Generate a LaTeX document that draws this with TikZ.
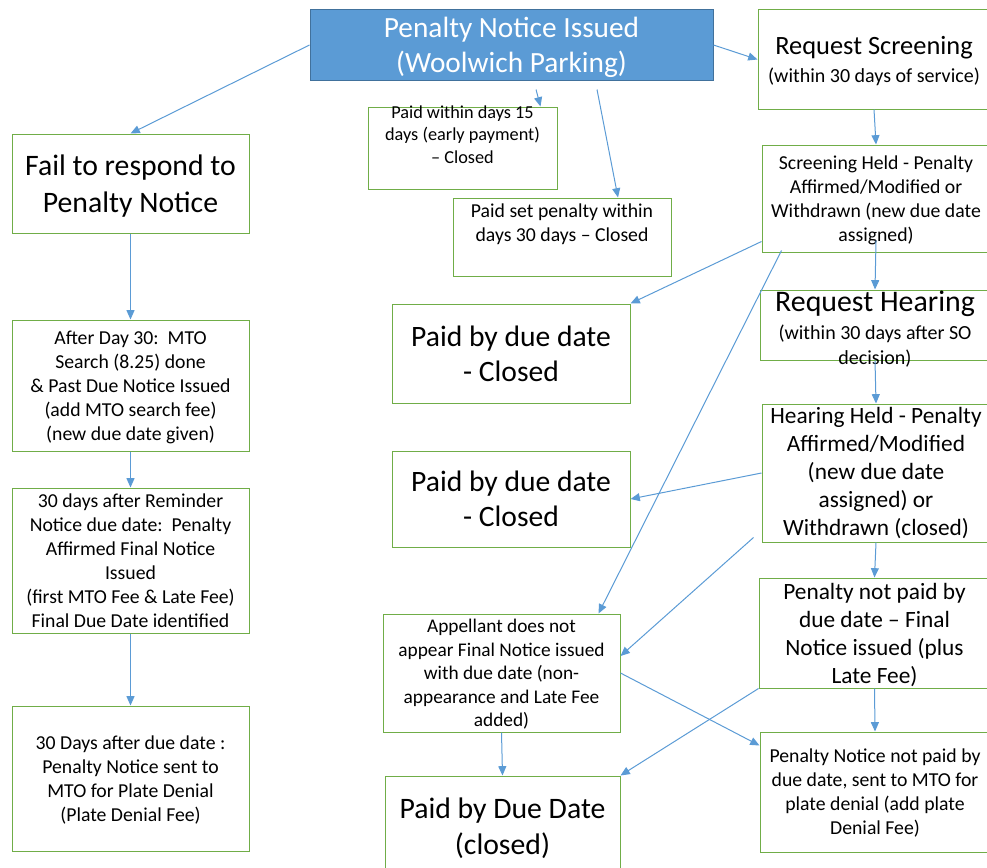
\documentclass[tikz,border=0pt]{standalone}
\usepackage{fontspec}
\setmainfont{Carlito}
\usetikzlibrary{arrows.meta}
\definecolor{boxgreen}{HTML}{70AD47}
\definecolor{arrblue}{HTML}{5B9BD5}
\definecolor{pniblue}{HTML}{5B9BD5}
\definecolor{pniedge}{HTML}{41719C}
\begin{document}
\begin{tikzpicture}[x=0.75pt,y=-0.75pt]
\tikzstyle{box} = [draw=boxgreen, line width=0.75pt, align=center, inner sep=1pt]
\tikzstyle{low} = [text depth=0pt]
\tikzstyle{arr} = [draw=arrblue, line width=0.75pt, -{Triangle[length=7pt,width=6pt]}]
\tikzstyle{txt} = [align=center, inner sep=0pt]
\def\px{0.75pt}
\def\fhuge{\fontsize{22.3}{27.75}\selectfont}
\def\fbig{\fontsize{22.2}{26.25}\selectfont}
\def\fmid{\fontsize{17.5}{21}\selectfont}
\def\fnorm{\fontsize{14.8}{18}\selectfont}
\def\fsml{\fontsize{13.7}{16.9}\selectfont}
\useasboundingbox (0,0) rectangle (987,867);

% top row
\node[box, low, draw=pniedge, fill=pniblue, text=white, font=\fontsize{22}{26.25}\selectfont, minimum width=403*\px, minimum height=70*\px] (pni) at (511.5,45) {Penalty Notice Issued\\(Woolwich Parking)};
\node[box, low, font=\fontsize{15}{21}\selectfont, minimum width=232*\px, minimum height=99*\px] (rscr) at (874,59.5) {{\fontsize{19.8}{21}\selectfont Request Screening}\\(within 30 days of service)};
\node[box, minimum width=189*\px, minimum height=82*\px] (p15) at (462.5,148) {};
\node[txt, font=\fsml] (p15txt) at (462.5,134.5) {Paid within days 15\\days (early payment)\\-- Closed};
\node[box, minimum width=218*\px, minimum height=78*\px] (p30) at (562,237) {};
\node[txt, font=\fnorm] (p30txt) at (562,224) {Paid set penalty within\\days 30 days -- Closed};

% left column
\node[box, low, font=\fhuge, minimum width=237*\px, minimum height=99*\px] (fail) at (130.5,183.5) {Fail to respond to\\Penalty Notice};
\node[box, low, font=\fnorm, minimum width=237*\px, minimum height=131*\px] (after30) at (130.5,385.5) {After Day 30:~~MTO\\Search (8.25) done\\\& Past Due Notice Issued\\(add MTO search fee)\\(new due date given)};
\node[box, font=\fnorm, minimum width=237*\px, minimum height=145*\px] (remind) at (130.5,560.5) {30 days after Reminder\\Notice due date:~~Penalty\\Affirmed Final Notice\\Issued\\(first MTO Fee \& Late Fee)\\Final Due Date identified};
\node[box, low, font=\fnorm, minimum width=237*\px, minimum height=145*\px] (denial) at (130.5,778.5) {30 Days after due date :\\Penalty Notice sent to\\MTO for Plate Denial\\(Plate Denial Fee)};

% middle column
\node[box, font=\fbig, minimum width=238*\px, minimum height=99*\px] (pdd1) at (511,353.5) {Paid by due date\\- Closed};
\node[box, font=\fbig, minimum width=238*\px, minimum height=96*\px] (pdd2) at (511,499) {Paid by due date\\- Closed};
\node[box, low, font=\fontsize{14.5}{17.6}\selectfont, minimum width=237*\px, minimum height=118*\px] (appel) at (501.5,673) {Appellant does not\\appear Final Notice issued\\with due date (non-\\appearance and Late Fee\\added)};
\node[box, font=\fontsize{22.3}{27}\selectfont, minimum width=235*\px, minimum height=104*\px] (pddc) at (502.5,828) {Paid by Due Date\\(closed)};

% right column
\node[box, text depth=-2.3pt, font=\fnorm, minimum width=228*\px, minimum height=107*\px] (sheld) at (876,198.5) {Screening Held - Penalty\\Affirmed/Modified or\\Withdrawn (new due date\\assigned)};
\node[box, minimum width=230*\px, minimum height=70*\px] (rhear) at (875,325) {};
\node[txt, font=\fontsize{15}{18.75}\selectfont] (rheartxt) at (875,329) {{\fontsize{22.4}{21}\selectfont Request Hearing}\\[2.25pt](within 30 days after SO\\decision)};
\node[box, font=\fmid, minimum width=228*\px, minimum height=138*\px] (hheld) at (876,473) {Hearing Held - Penalty\\Affirmed/Modified\\(new due date\\assigned) or\\Withdrawn (closed)};
\node[box, low, font=\fmid, minimum width=231*\px, minimum height=110*\px] (npaid) at (874.5,633) {Penalty not paid by\\due date -- Final\\Notice issued (plus\\Late Fee)};
\node[box, low, font=\fnorm, minimum width=230*\px, minimum height=120*\px] (mto) at (875,792) {Penalty Notice not paid by\\due date, sent to MTO for\\plate denial (add plate\\Denial Fee)};

% connectors
\draw[arr] (pni.west) -- (fail.north);
\draw[arr] ([xshift=24.5*\px, yshift=-9*\px]pni.south) -- ([xshift=-17*\px]p15.north east);
\draw[arr] ([xshift=85.5*\px, yshift=-9*\px]pni.south) -- ([xshift=56*\px]p30.north);
\draw[arr] (pni.east) -- (rscr.west);
\draw[arr] (rscr.south) -- (sheld.north);
\draw[arr] ([yshift=12*\px]sheld.south) -- (rhear.north);
\draw[arr] ([yshift=11*\px]sheld.south west) -- (pdd1.north east);
\draw[arr] ([xshift=20*\px, yshift=2*\px]sheld.south west) -- ([xshift=-22*\px]appel.north east);
\draw[arr] (rhear.south) -- (hheld.north);
\draw[arr] (hheld.west) -- (pdd2.east);
\draw[arr] ([xshift=-8*\px, yshift=5*\px]hheld.south west) -- ([yshift=17*\px]appel.east);
\draw[arr] (hheld.south) -- (npaid.north);
\draw[arr] (npaid.south) -- (mto.north);
\draw[arr] (npaid.south west) -- (pddc.north east);
\draw[arr] (appel.east) -- ([yshift=-14*\px]mto.north west);
\draw[arr] (appel.south) -- (pddc.north);
\draw[arr] (fail.south) -- (after30.north);
\draw[arr] (after30.south) -- (remind.north);
\draw[arr] (remind.south) -- (denial.north);
\end{tikzpicture}
\end{document}
